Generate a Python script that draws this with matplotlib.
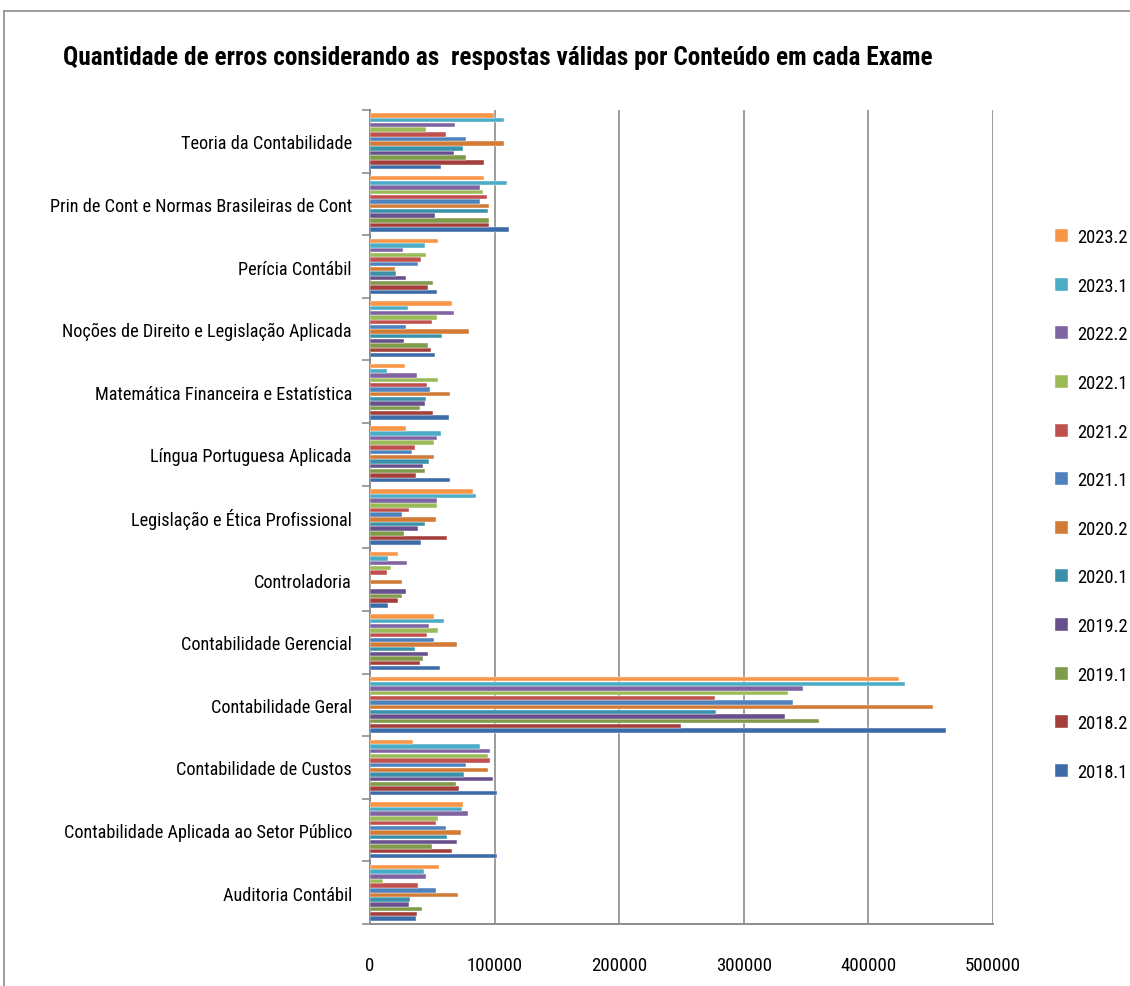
import matplotlib
matplotlib.use("Agg")
import matplotlib.pyplot as plt
import numpy as np
from matplotlib.lines import Line2D
from matplotlib.font_manager import fontManager

names = {f.name for f in fontManager.ttflist}
preferred = ["Liberation Sans Narrow", "Noto Sans ExtraCondensed", "Noto Sans Condensed",
             "Roboto Condensed", "Open Sans Condensed", "Noto Sans SemiCondensed"]
FONT = next((n for n in preferred if n in names), None)
if FONT is None:
    FONT = "DejaVu Sans"
    plt.rcParams['font.stretch'] = 'condensed'
plt.rcParams['font.family'] = [FONT, 'DejaVu Sans']

categories = [
    "Auditoria Contábil",
    "Contabilidade Aplicada ao Setor Público",
    "Contabilidade de Custos",
    "Contabilidade Geral",
    "Contabilidade Gerencial",
    "Controladoria",
    "Legislação e Ética Profissional",
    "Língua Portuguesa Aplicada",
    "Matemática Financeira e Estatística",
    "Noções de Direito e Legislação Aplicada",
    "Perícia Contábil",
    "Prin de Cont e Normas Brasileiras de Cont",
    "Teoria da Contabilidade",
]

series_names = ["2018.1", "2018.2", "2019.1", "2019.2", "2020.1", "2020.2",
                "2021.1", "2021.2", "2022.1", "2022.2", "2023.1", "2023.2"]

s2018_1 = [36600, 102200, 101900, 461900, 56200, 14200, 40600, 64200, 63700, 51900, 53500, 111600, 56700]
s2018_2 = [37600, 65600, 71800, 249800, 39800, 22800, 61600, 37100, 50300, 49200, 46800, 95400, 91700]
s2019_1 = [41700, 50000, 69100, 360600, 42500, 25800, 27400, 43800, 39800, 46200, 50300, 95700, 77000]
s2019_2 = [30900, 69900, 98400, 333300, 46200, 28500, 38400, 42200, 43800, 26900, 29000, 52400, 67500]
s2020_1 = [32000, 61600, 75300, 277500, 35800, 0, 43800, 47000, 45200, 57800, 21200, 94400, 74500]
s2020_2 = [70400, 73400, 94400, 451700, 69600, 25300, 52700, 51600, 64000, 79300, 20200, 95200, 107300]
s2021_1 = [53200, 60800, 77200, 339700, 51100, 0, 25300, 33900, 47800, 29000, 38400, 87900, 77400]
s2021_2 = [38200, 52700, 96000, 276500, 45700, 13700, 31500, 36000, 45700, 50000, 40900, 93800, 61000]
s2022_1 = [10200, 54300, 94600, 335200, 54600, 16700, 53800, 51300, 54800, 53800, 45200, 90900, 45000]
s2022_2 = [44600, 78500, 96000, 347600, 47600, 29800, 53500, 53800, 37600, 67700, 26600, 88200, 68000]
s2023_1 = [43000, 74200, 88200, 429200, 59400, 14500, 84700, 56700, 14000, 30600, 43800, 109700, 107500]
s2023_2 = [55600, 74500, 34400, 424400, 51600, 22800, 82800, 28800, 27700, 65900, 54600, 91700, 99500]

series_values = [s2018_1, s2018_2, s2019_1, s2019_2, s2020_1, s2020_2,
                 s2021_1, s2021_2, s2022_1, s2022_2, s2023_1, s2023_2]

colors = ["#3D6BA8", "#A33E3B", "#7F9A48", "#68508C", "#3A91A9", "#D27B36",
          "#4F81BD", "#C0504D", "#9BBB59", "#8064A2", "#4BACC6", "#F79646"]

xticks = [0, 100000, 200000, 300000, 400000, 500000]

W, H = 1130, 987
fig = plt.figure(figsize=(W/100, H/100), dpi=100)
ax = fig.add_axes([370/W, 1-925/H, (993-370)/W, (925-111)/H])
renderer = fig.canvas.get_renderer()

def text_w(t):
    return t.get_window_extent(renderer).width

n = len(series_names)
group_w = 0.896
slot = group_w / n
y = np.arange(len(categories))
for j, (name, vals, c) in enumerate(zip(series_names, series_values, colors)):
    off = -group_w/2 + slot*(j+0.5)
    ax.barh(y + off, vals, height=slot*0.95, color=c, label=name,
            edgecolor='white', linewidth=0.3, zorder=3)

ax.set_ylim(-0.5, len(categories)-0.5)
ax.set_xlim(0, 500000)
ax.set_xticks(xticks)
ax.set_xticklabels([str(v) for v in xticks])
ax.set_yticks(y)
ax.set_yticklabels(categories)
ax.set_yticks(np.arange(len(categories)+1) - 0.5, minor=True)
ax.tick_params(axis='y', which='major', length=0, pad=13)
ax.tick_params(axis='y', which='minor', length=6, color='#8c8c8c', width=1.2)
ax.tick_params(axis='x', which='major', length=0, pad=23)
ax.grid(axis='x', color='#8c8c8c', linewidth=1.2, zorder=0)
for s in ['top', 'right']:
    ax.spines[s].set_visible(False)
for s in ['left', 'bottom']:
    ax.spines[s].set_color('#8c8c8c')
    ax.spines[s].set_linewidth(1.4)

# fit texts to the widths they have in the reference
probe = fig.text(0, 0, "Prin de Cont e Normas Brasileiras de Cont", fontsize=10)
ylab_fs = 10 * 300 / text_w(probe)
probe.set_text("100000")
xtick_fs = 10 * 55 / text_w(probe)
probe.set_text("2023.2")
leg_fs = 10 * 50 / text_w(probe)
probe.remove()
for t in ax.get_yticklabels():
    t.set_fontsize(ylab_fs)
for t in ax.get_xticklabels():
    t.set_fontsize(xtick_fs)

title = fig.text(63/W, 1-58/H,
                 "Quantidade de erros considerando as  respostas válidas por Conteúdo em cada Exame",
                 fontsize=10, fontweight='bold', va='center', ha='left')
title.set_fontsize(10 * 870 / text_w(title))

handles, labels = ax.get_legend_handles_labels()

def make_legend(ls, shift=0):
    return fig.legend(handles[::-1], labels[::-1], loc='upper left',
                      bbox_to_anchor=(1055/W, 1-(238-12-shift)/H), frameon=False,
                      fontsize=leg_fs, handlelength=0.7, handleheight=0.7,
                      labelspacing=ls, handletextpad=0.5, borderaxespad=0,
                      borderpad=0)

ls = 2.0
for _ in range(3):
    leg = make_legend(ls)
    fig.canvas.draw()
    texts = leg.get_texts()
    b0 = texts[0].get_window_extent(renderer)
    b1 = texts[-1].get_window_extent(renderer)
    span = (b0.y0 + b0.y1)/2 - (b1.y0 + b1.y1)/2
    fs_px = leg_fs * 100 / 72
    ls = ls + (535 - span) / (11 * fs_px)
    leg.remove()
leg = make_legend(ls)
fig.canvas.draw()
b0 = leg.get_texts()[0].get_window_extent(renderer)
shift = (H - (b0.y0 + b0.y1)/2) - 238
leg.remove()
leg = make_legend(ls, shift)

fig.add_artist(Line2D([4/W, 4/W], [0, 1-12/H], transform=fig.transFigure,
                      color='#8c8c8c', linewidth=1.2))
fig.add_artist(Line2D([4/W, 1], [1-12/H, 1-12/H], transform=fig.transFigure,
                      color='#8c8c8c', linewidth=1.2))

fig.savefig("out.png", dpi=100)
